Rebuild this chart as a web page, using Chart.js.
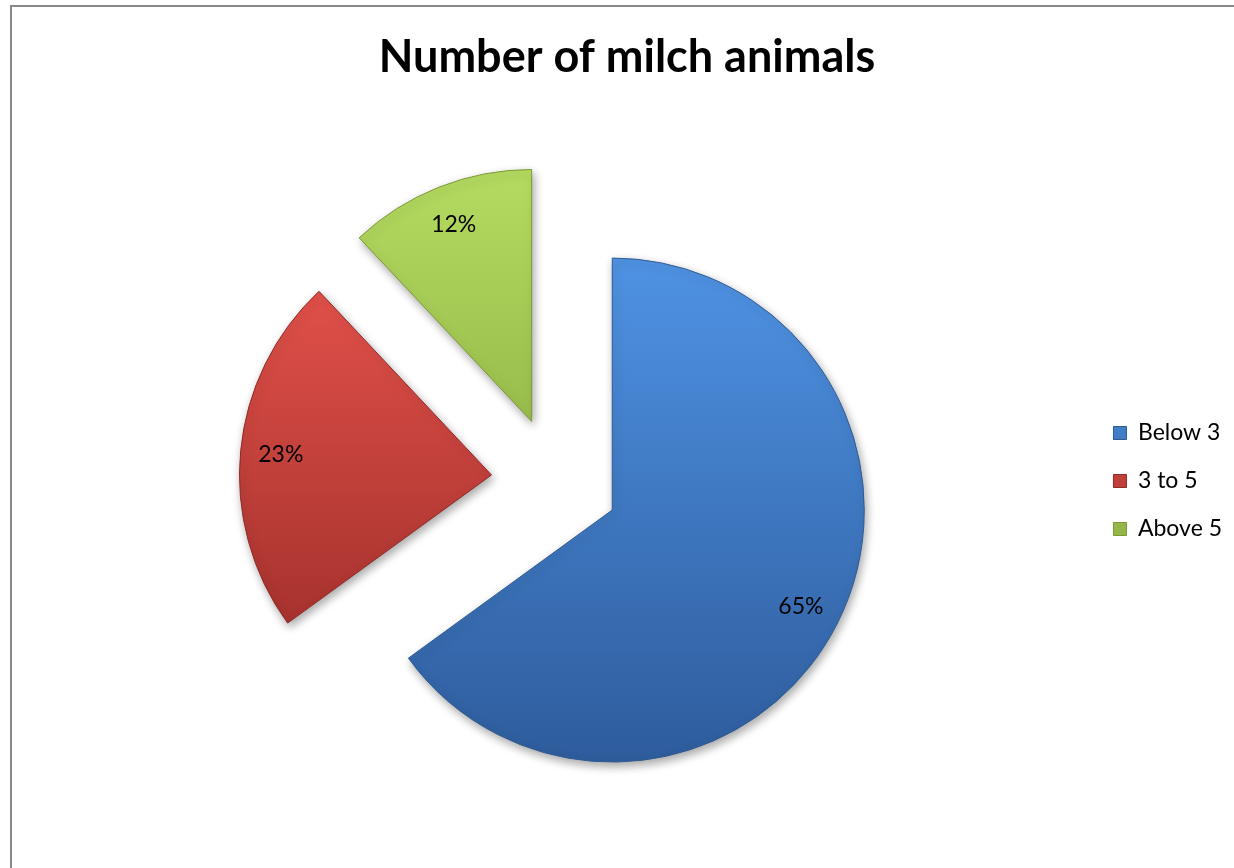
<!DOCTYPE html>
<html>
<head>
<meta charset="utf-8">
<title>Number of milch animals</title>
<script src="https://cdn.jsdelivr.net/npm/chart.js@4.4.1/dist/chart.umd.min.js"></script>
<style>
  html, body { margin: 0; padding: 0; background: #ffffff; overflow: hidden; }
  #frame {
    position: absolute; left: 10px; top: 5px; width: 1240px; height: 880px;
    border-left: 2px solid #888888; border-top: 2px solid #888888;
  }
  #wrap { position: absolute; left: 0; top: 0; width: 1234px; height: 868px; }
</style>
</head>
<body>
<div id="frame"></div>
<div id="wrap"><canvas id="milchChart" width="1234" height="868"></canvas></div>
<script>
// Share of households by number of milch animals (%)
const categories = ['Below 3', '3 to 5', 'Above 5'];
const shares = [65, 23, 12];

// Top / bottom colours of each slice gradient
const sliceTop = ['#4F93E4', '#EC564F', '#B5DB61'];
const sliceBottom = ['#2E5C9C', '#952925', '#7D9E36'];
const sliceEdge = ['#2F5A92', '#8E2A27', '#7A9A38'];

const PIE_RADIUS = 252;
const EXPLODE = 64;

function sliceGradient(context) {
    const chart = context.chart;
    const area = chart.chartArea;
    const i = context.dataIndex;
    if (!area) return sliceTop[i];
    const cy = (area.top + area.bottom) / 2;
    const g = chart.ctx.createLinearGradient(0, cy - PIE_RADIUS, 0, cy + PIE_RADIUS);
    g.addColorStop(0, sliceTop[i]);
    g.addColorStop(1, sliceBottom[i]);
    return g;
}

// Pull every slice out from the centre and give it a soft drop shadow
const explodePlugin = {
    id: 'explodeSlices',
    beforeDatasetDraw(chart, args) {
        const ctx = chart.ctx;
        args.meta.data.forEach(arc => {
            const mid = (arc.startAngle + arc.endAngle) / 2;
            ctx.save();
            ctx.translate(Math.cos(mid) * EXPLODE, Math.sin(mid) * EXPLODE);
            ctx.shadowColor = 'rgba(0, 0, 0, 0.35)';
            ctx.shadowBlur = 10;
            ctx.shadowOffsetX = 2;
            ctx.shadowOffsetY = 4;
            arc.draw(ctx);
            ctx.restore();
        });
        return false;
    }
};

// Percentage labels inside each slice
const percentLabels = {
    id: 'percentLabels',
    afterDatasetsDraw(chart) {
        const ctx = chart.ctx;
        const meta = chart.getDatasetMeta(0);
        ctx.save();
        ctx.font = '23px Lato';
        ctx.fillStyle = '#000000';
        ctx.textAlign = 'center';
        ctx.textBaseline = 'middle';
        meta.data.forEach((arc, i) => {
            const mid = (arc.startAngle + arc.endAngle) / 2;
            const r = EXPLODE + arc.outerRadius * 0.84;
            ctx.fillText(shares[i] + '%', arc.x + Math.cos(mid) * r, arc.y + Math.sin(mid) * r);
        });
        ctx.restore();
    }
};

const ctx = document.getElementById('milchChart').getContext('2d');
const milchChart = new Chart(ctx, {
    type: 'pie',
    data: {
        labels: categories,
        datasets: [{
            data: shares,
            backgroundColor: sliceGradient,
            borderColor: sliceEdge,
            borderWidth: 1
        }]
    },
    options: {
        responsive: false,
        animation: false,
        radius: PIE_RADIUS,
        layout: {
            padding: { left: 22, right: 2, top: 0, bottom: 10 }
        },
        plugins: {
            title: {
                display: true,
                text: 'Number of milch animals',
                color: '#000000',
                font: { family: 'Lato', size: 45, weight: 'bold' },
                padding: { top: 30, bottom: 20 }
            },
            legend: {
                position: 'right',
                fullSize: false,
                labels: {
                    color: '#000000',
                    font: { family: 'Lato', size: 23 },
                    boxWidth: 13,
                    boxHeight: 13,
                    padding: 25
                }
            },
            tooltip: { enabled: false }
        }
    },
    plugins: [explodePlugin, percentLabels]
});
</script>
</body>
</html>
